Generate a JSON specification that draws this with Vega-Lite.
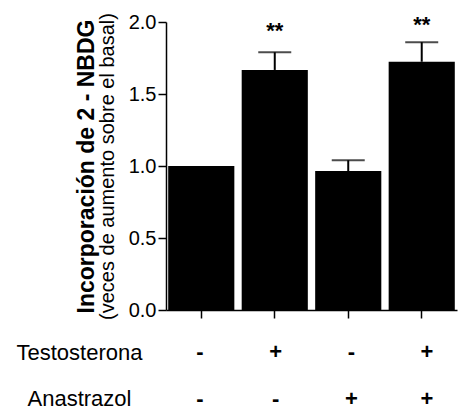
{
  "$schema": "https://vega.github.io/schema/vega-lite/v6.json",
  "padding": {"left": 16, "top": 12, "right": 0, "bottom": 0},
  "spacing": 18,
  "config": {
    "font": "Liberation Sans",
    "view": {"stroke": null},
    "axis": {"grid": false, "labelColor": "black", "titleColor": "black", "domainColor": "black", "tickColor": "black"}
  },
  "datasets": {
    "barras": [
      {"grupo": "1", "media": 1.0, "sup": 1.0, "sig": "", "pos": 1.0},
      {"grupo": "2", "media": 1.667, "sup": 1.79, "sig": "**", "pos": 1.89},
      {"grupo": "3", "media": 0.965, "sup": 1.04, "sig": "", "pos": 1.0},
      {"grupo": "4", "media": 1.724, "sup": 1.86, "sig": "**", "pos": 1.93}
    ],
    "tabla": [
      {"grupo": "1", "fila": "Testosterona", "signo": "-"},
      {"grupo": "2", "fila": "Testosterona", "signo": "+"},
      {"grupo": "3", "fila": "Testosterona", "signo": "-"},
      {"grupo": "4", "fila": "Testosterona", "signo": "+"},
      {"grupo": "1", "fila": "Anastrazol", "signo": "-"},
      {"grupo": "2", "fila": "Anastrazol", "signo": "-"},
      {"grupo": "3", "fila": "Anastrazol", "signo": "+"},
      {"grupo": "4", "fila": "Anastrazol", "signo": "+"}
    ]
  },
  "vconcat": [
    {
      "width": 291,
      "height": 288,
      "data": {"name": "barras"},
      "encoding": {
        "x": {
          "field": "grupo", "type": "nominal",
          "scale": {"paddingInner": 0.1, "paddingOuter": 0.03},
          "axis": {"labels": false, "title": null, "tickSize": 8, "domainWidth": 1.5, "tickWidth": 1.5}
        }
      },
      "layer": [
        {
          "mark": {"type": "bar", "color": "black"},
          "encoding": {
            "y": {
              "field": "media", "type": "quantitative",
              "scale": {"domain": [0, 2], "nice": false},
              "axis": {
                "title": "Incorporación de 2 - NBDG",
                "titleFontSize": 23, "titleFontWeight": "bold", "titlePadding": 30,
                "labelFontSize": 20, "labelPadding": 2, "tickSize": 8,
                "domainWidth": 1.5, "tickWidth": 1.5,
                "values": [0, 0.5, 1, 1.5, 2], "format": ".1f"
              }
            }
          }
        },
        {
          "transform": [{"filter": "datum.sup > datum.media"}],
          "mark": {"type": "rule", "strokeWidth": 2, "color": "black"},
          "encoding": {
            "y": {"field": "media", "type": "quantitative", "axis": null},
            "y2": {"field": "sup"}
          }
        },
        {
          "transform": [{"filter": "datum.sup > datum.media"}],
          "mark": {"type": "tick", "thickness": 2, "size": 33, "color": "black"},
          "encoding": {
            "y": {
              "field": "sup", "type": "quantitative",
              "axis": {
                "orient": "left",
                "title": "(veces de aumento sobre el basal)",
                "titleFontSize": 20, "titleFontWeight": "normal", "titlePadding": 49,
                "labels": false, "ticks": false, "domain": false
              }
            }
          }
        },
        {
          "mark": {"type": "text", "fontSize": 22, "fontWeight": "bold", "baseline": "alphabetic", "color": "black"},
          "encoding": {
            "y": {"field": "pos", "type": "quantitative", "axis": null},
            "text": {"field": "sig"}
          }
        }
      ],
      "resolve": {"axis": {"y": "independent"}}
    },
    {
      "width": 295,
      "height": 75,
      "data": {"name": "tabla"},
      "mark": {"type": "text", "fontSize": 22, "fontWeight": "bold", "color": "black"},
      "encoding": {
        "x": {
          "field": "grupo", "type": "nominal",
          "scale": {"type": "point", "padding": 0.449},
          "axis": null
        },
        "y": {
          "field": "fila", "type": "nominal",
          "sort": ["Testosterona", "Anastrazol"],
          "scale": {"type": "point", "padding": 0.3},
          "axis": {
            "title": null, "labelFontSize": 22, "labelAlign": "center",
            "labelPadding": 87, "ticks": false, "tickSize": 0, "domain": false
          }
        },
        "text": {"field": "signo"}
      }
    }
  ]
}
